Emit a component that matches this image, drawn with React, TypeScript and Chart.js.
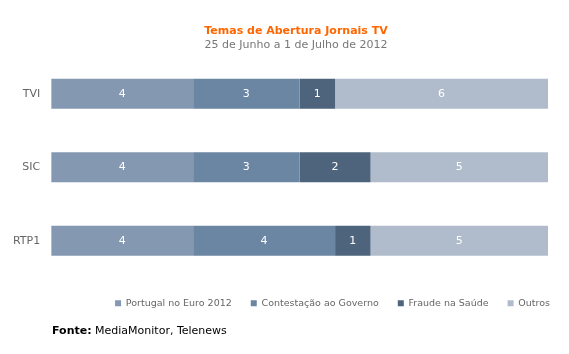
import React, { useEffect, useRef } from "react";
import { Chart, registerables } from "chart.js";

Chart.register(...registerables);

const categories = ["TVI", "SIC", "RTP1"];
const seriesNames = ["Portugal no Euro 2012", "Contestação ao Governo", "Fraude na Saúde", "Outros"];
const portugalEuro = [4, 4, 4];
const contestacao = [3, 3, 4];
const fraude = [1, 2, 1];
const outros = [6, 5, 5];
const colors = ["#8499b1", "#6a86a2", "#4e647c", "#b0bccb"];

const titleText = "Temas de Abertura Jornais TV";
const subtitleText = "25 de Junho a 1 de Julho de 2012";

const FONT = "'DejaVu Sans', sans-serif";

const valueLabels = {
  id: "valueLabels",
  afterDatasetsDraw(chart: any) {
    const ctx = chart.ctx;
    ctx.save();
    ctx.fillStyle = "#ffffff";
    ctx.font = `11px ${FONT}`;
    ctx.textAlign = "center";
    ctx.textBaseline = "middle";
    chart.data.datasets.forEach((ds: any, i: number) => {
      const meta = chart.getDatasetMeta(i);
      meta.data.forEach((bar: any, j: number) => {
        const v = ds.data[j];
        if (!v) return;
        const x = (bar.x + bar.base) / 2;
        ctx.fillText(String(v), x, bar.y);
      });
    });
    ctx.restore();
  },
};

const headerAndSource = {
  id: "headerAndSource",
  afterDraw(chart: any) {
    const ctx = chart.ctx;
    ctx.save();
    ctx.textBaseline = "middle";
    ctx.textAlign = "center";
    ctx.fillStyle = "#ff6600";
    ctx.font = `bold 11px ${FONT}`;
    ctx.fillText(titleText, 296, 31);
    ctx.fillStyle = "#777777";
    ctx.font = `11px ${FONT}`;
    ctx.fillText(subtitleText, 296, 45);

    ctx.fillStyle = "#000000";
    ctx.textAlign = "left";
    ctx.font = `bold 11px ${FONT}`;
    const label = "Fonte:";
    ctx.fillText(label, 52, 331);
    const w = ctx.measureText(label).width;
    ctx.font = `11px ${FONT}`;
    ctx.fillText(" MediaMonitor, Telenews", 52 + w, 331);
    ctx.restore();
  },
};

export default function App() {
  const ref = useRef<HTMLCanvasElement>(null);
  useEffect(() => {
    if (!ref.current) return;
    const data = [portugalEuro, contestacao, fraude, outros];
    const chart = new Chart(ref.current, {
      type: "bar",
      data: {
        labels: categories,
        datasets: seriesNames.map((name, i) => ({
          label: name,
          data: data[i],
          backgroundColor: colors[i],
          borderWidth: 0,
          barPercentage: 0.41,
          categoryPercentage: 1,
        })),
      },
      options: {
        indexAxis: "y",
        responsive: false,
        animation: false,
        layout: { padding: { left: 2, right: 0, top: 57, bottom: 36 } },
        scales: {
          x: {
            stacked: true,
            min: 0,
            max: 14,
            display: true,
            grid: { display: false, drawTicks: false },
            border: { display: false },
            ticks: { display: false },
            afterFit: (s: any) => {
              s.height = 2;
            },
          },
          y: {
            stacked: true,
            grid: { display: false, drawTicks: false },
            border: { display: false },
            ticks: { color: "#666666", font: { family: FONT, size: 11 }, padding: 11 },
          },
          yRight: {
            type: "linear",
            axis: "y",
            position: "right",
            display: true,
            grid: { display: false, drawTicks: false },
            border: { display: false },
            ticks: { display: false },
            afterFit: (s: any) => {
              s.width = 21;
            },
          },
        },
        plugins: {
          tooltip: { enabled: false },
          title: { display: false },
          legend: {
            position: "bottom",
            align: "end",
            labels: {
              boxWidth: 6,
              boxHeight: 6,
              color: "#666666",
              font: { family: FONT, size: 9.5 },
              padding: 19,
            },
          },
        },
      },
      plugins: [valueLabels, headerAndSource],
    });
    return () => chart.destroy();
  }, []);
  return (
    <div style={{ position: "absolute", left: 0, top: 0, width: 569, height: 354 }}>
      <canvas ref={ref} width={569} height={354} />
    </div>
  );
}
